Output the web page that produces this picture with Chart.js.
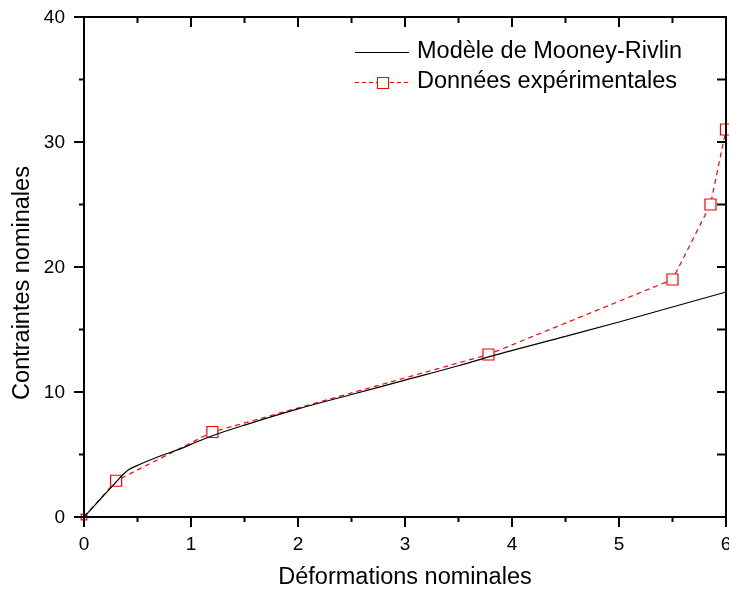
<!DOCTYPE html>
<html>
<head>
<meta charset="utf-8">
<script src="https://cdn.jsdelivr.net/npm/chart.js@4"></script>
<style>
  html, body { margin: 0; padding: 0; background: #fff; }
  #wrap { width: 729px; height: 591px; }
</style>
</head>
<body>
<div id="wrap"><canvas id="c" width="729" height="591"></canvas></div>
<script>
// Modèle de Mooney-Rivlin (courbe continue)
const modelX = [0, 0.1, 0.2, 0.3, 0.36, 0.42, 0.48, 0.6, 0.75, 0.9, 1.05, 1.2, 1.5, 2, 2.5, 3, 3.5, 3.8, 4.5, 5, 5.5, 6];
const modelY = [0, 0.93, 1.87, 2.8, 3.36, 3.8, 4.05, 4.5, 5.0, 5.45, 6.0, 6.5, 7.35, 8.65, 9.8, 10.95, 12.1, 12.85, 14.45, 15.6, 16.8, 18];

// Données expérimentales
const expX = [0, 0.3, 1.2, 3.78, 5.5, 5.855, 6];
const expY = [0, 2.9, 6.8, 13, 19, 25, 31];

const xTicks = [0, 1, 2, 3, 4, 5, 6];
const yTicks = [0, 10, 20, 30, 40];

const FONT = '"Liberation Sans", Arial, sans-serif';

// Cadre, graduations, libellés et légende dessinés à partir des échelles
const framePlugin = {
    id: 'frame',
    afterDraw(chart) {
        const { ctx, chartArea: a, scales: { x, y } } = chart;
        ctx.save();
        ctx.strokeStyle = '#000';
        ctx.lineWidth = 2;
        ctx.strokeRect(a.left, a.top, a.right - a.left, a.bottom - a.top);

        ctx.beginPath();
        for (let v = 0; v <= 6.001; v += 0.5) {
            const px = x.getPixelForValue(v);
            const major = Math.abs(v - Math.round(v)) < 1e-6;
            ctx.moveTo(px, a.bottom); ctx.lineTo(px, a.bottom + (major ? 10 : 5));
            ctx.moveTo(px, a.top); ctx.lineTo(px, a.top + (major ? 10 : 6));
        }
        for (let v = 0; v <= 40.001; v += 5) {
            const py = y.getPixelForValue(v);
            const major = v % 10 === 0;
            ctx.moveTo(a.left, py); ctx.lineTo(a.left - (major ? 10 : 5), py);
            ctx.moveTo(a.right, py); ctx.lineTo(a.right - 9, py);
        }
        ctx.stroke();

        ctx.fillStyle = '#000';
        ctx.font = '19px ' + FONT;
        ctx.textAlign = 'center';
        ctx.textBaseline = 'middle';
        xTicks.forEach(v => ctx.fillText(String(v), x.getPixelForValue(v), a.bottom + 28));
        ctx.textAlign = 'right';
        yTicks.forEach(v => ctx.fillText(String(v), a.left - 19, y.getPixelForValue(v) + 1));

        ctx.font = '23.5px ' + FONT;
        ctx.textAlign = 'center';
        ctx.fillText('Déformations nominales', 405, 578);
        ctx.save();
        ctx.translate(23, 283);
        ctx.rotate(-Math.PI / 2);
        ctx.fillText('Contraintes nominales', 0, 0);
        ctx.restore();

        // Légende
        ctx.font = '23.5px ' + FONT;
        ctx.textAlign = 'left';
        ctx.lineWidth = 1;
        ctx.strokeStyle = '#000';
        ctx.beginPath(); ctx.moveTo(355, 52.5); ctx.lineTo(409, 52.5); ctx.stroke();
        ctx.fillText('Modèle de Mooney-Rivlin', 417, 52);
        ctx.strokeStyle = '#ff0000';
        ctx.setLineDash([4, 3]);
        ctx.beginPath(); ctx.moveTo(355, 82.5); ctx.lineTo(409, 82.5); ctx.stroke();
        ctx.setLineDash([]);
        ctx.fillStyle = '#fff';
        ctx.fillRect(377.5, 77.5, 11, 11);
        ctx.strokeRect(377.5, 77.5, 11, 11);
        ctx.fillStyle = '#000';
        ctx.fillText('Données expérimentales', 417, 82);
        ctx.restore();
    }
};

new Chart(document.getElementById('c'), {
    type: 'scatter',
    data: {
        datasets: [
            {
                label: 'Modèle de Mooney-Rivlin',
                data: modelX.map((v, i) => ({ x: v, y: modelY[i] })),
                showLine: true,
                borderColor: '#000',
                borderWidth: 1.2,
                pointRadius: 0,
                cubicInterpolationMode: 'monotone'
            },
            {
                label: 'Données expérimentales',
                data: expX.map((v, i) => ({ x: v, y: expY[i] })),
                showLine: true,
                borderColor: '#ff0000',
                borderWidth: 1.2,
                borderDash: [5, 4],
                pointStyle: 'rect',
                pointRadius: c => c.dataIndex === 0 ? 4 : 7.8,
                pointBorderColor: '#ff0000',
                pointBackgroundColor: '#fff',
                pointBorderWidth: 1.2,
                tension: 0
            }
        ]
    },
    options: {
        responsive: false,
        animation: false,
        clip: false,
        layout: { autoPadding: false, padding: { left: 84, top: 17, right: 3, bottom: 74 } },
        plugins: { legend: { display: false }, tooltip: { enabled: false } },
        scales: {
            x: { type: 'linear', min: 0, max: 6, display: false },
            y: { type: 'linear', min: 0, max: 40, display: false }
        }
    },
    plugins: [framePlugin]
});
</script>
</body>
</html>
